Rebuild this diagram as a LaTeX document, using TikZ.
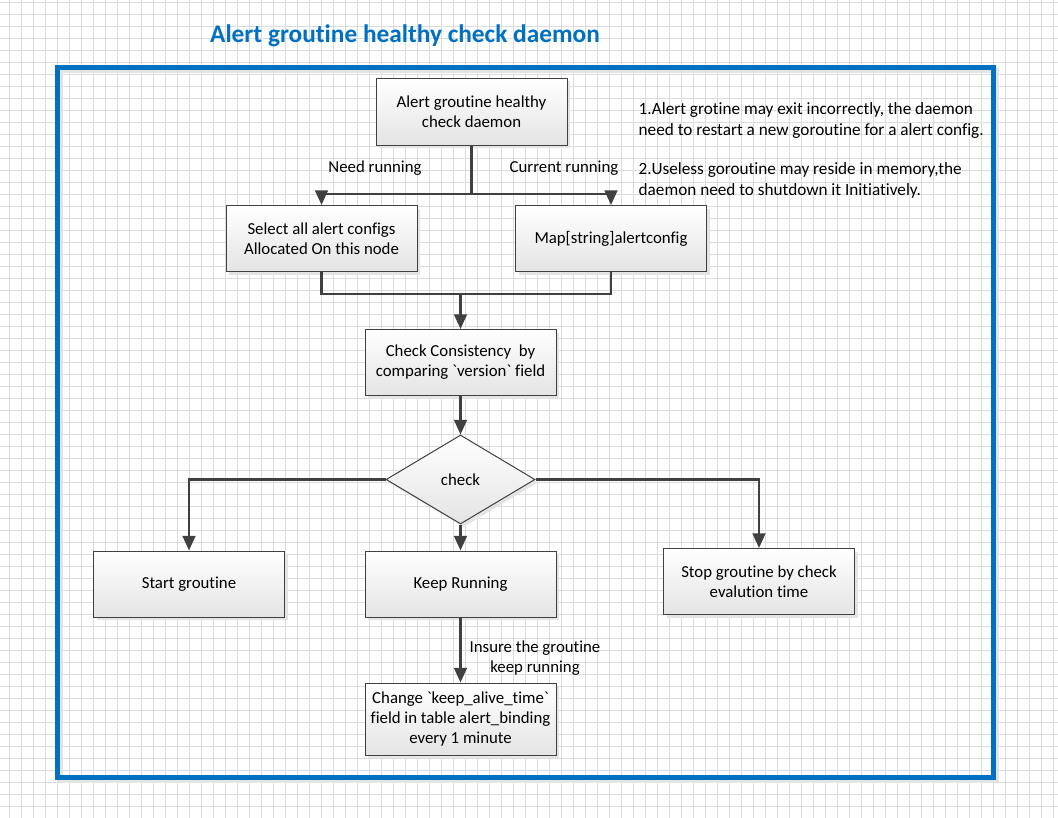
\documentclass[tikz,border=0pt]{standalone}
\usepackage{fontspec}
\setmainfont{Carlito}[Ligatures=NoCommon]
\usepackage{tikz}
\usetikzlibrary{positioning,arrows.meta,shapes.geometric,shadows}
\definecolor{FrameBlue}{RGB}{0,112,192}
\definecolor{LineGray}{RGB}{64,64,64}
\definecolor{GridGray}{RGB}{220,220,220}
\definecolor{ShadeGray}{RGB}{228,228,228}

\begin{document}
\begin{tikzpicture}[x=0.75pt, y=-0.75pt, font=\fontsize{12.6}{15}\selectfont, >={Triangle[length=11pt,width=9.5pt]}]
      \tikzset{
        gridline/.style={draw=GridGray, line width=0.75pt},
        block/.style={draw=LineGray, line width=0.75pt, top color=white, bottom color=ShadeGray, minimum width=143.25pt, minimum height=49.5pt, inner sep=2pt, align=center, drop shadow={shadow xshift=2.25pt, shadow yshift=-2.25pt, fill=ShadeGray, opacity=1}},
        decision/.style={diamond, draw=LineGray, line width=0.75pt, top color=white, bottom color=ShadeGray, minimum width=111.75pt, minimum height=66.75pt, inner sep=0pt, drop shadow={shadow xshift=2.25pt, shadow yshift=-2.25pt, fill=ShadeGray, opacity=1}},
        arrow/.style={->, draw=LineGray, line width=1.9pt},
        wire/.style={draw=LineGray, line width=1.9pt},
        lbl/.style={align=center, text=black},
        note/.style={align=left, anchor=west, text=black, font=\fontsize{12.9}{16.2}\selectfont},
        heading/.style={font=\fontsize{19}{22}\selectfont\bfseries, text=FrameBlue}
      }
      \useasboundingbox (0,0) rectangle (1058,818);
      \fill[white] (0,0) rectangle (1058,818);
      % background grid
      \foreach \gx in {9,21,...,1057} \draw[gridline] (\gx,0) -- (\gx,818);
      \foreach \gy in {2,14,...,817} \draw[gridline] (0,\gy) -- (1058,\gy);

      % frame
      \draw[draw=ShadeGray, line width=3.75pt] (60.5,70.5) rectangle (996.5,780);
      \draw[draw=FrameBlue, line width=3.75pt] (57.5,67.5) rectangle (993.5,777);

      \node[heading] (title) at (405,36) {Alert groutine healthy check daemon};

      \node[block, minimum height=50.25pt] (daemon) at (471.5,111.5) {Alert groutine healthy\\check daemon};
      \node[block] (select) at (321.5,238.5) {Select all alert configs\\Allocated On this node};
      \node[block] (mapcfg) at (611,238.5) {Map[string]alertconfig};
      \node[block] (consist) at (460.5,362.5) {Check Consistency~~by\\comparing \textasciigrave version\textasciigrave{} field};
      \node[decision] (chk) at (460.5,479.5) {check};
      \node[block] (start) at (189,584) {Start groutine};
      \node[block] (keep) at (460.5,584) {Keep Running};
      \node[block] (stop) at (759,581.5) {Stop groutine by check\\evalution time};
      \node[block, minimum height=54pt] (change) at (460.5,719) {Change \textasciigrave keep\_alive\_time\textasciigrave\\field in table alert\_binding\\every 1 minute};

      \node[lbl] (needlbl) at (375,168) {Need running};
      \node[lbl] (curlbl) at (564,168) {Current running};
      \node[lbl] (insure) at (535,658) {Insure the groutine\\keep running};

      \node[note] (note1) at (634,120.5) {1.Alert grotine may exit incorrectly, the daemon\\need to restart a new goroutine for a alert config.};
      \node[note] (note2) at (634,180.5) {2.Useless goroutine may reside in memory,the\\daemon need to shutdown it Initiatively.};

      \coordinate (split) at (471.5,194);
      \coordinate (merge) at (460.5,294);

      \draw[wire] (daemon.south) -- (split);
      \draw[arrow] (split) -| (select.north);
      \draw[arrow] (split) -| (mapcfg.north);
      \draw[wire] (select.south) |- (merge);
      \draw[wire] (mapcfg.south) |- (merge);
      \draw[arrow] (merge) -- (consist);
      \draw[arrow] (consist) -- (chk);
      \draw[arrow] (chk.west) -| (start.north);
      \draw[arrow] (chk.east) -| (stop.north);
      \draw[arrow] (chk) -- (keep);
      \draw[arrow] (keep) -- (change);
    \end{tikzpicture}
\end{document}
